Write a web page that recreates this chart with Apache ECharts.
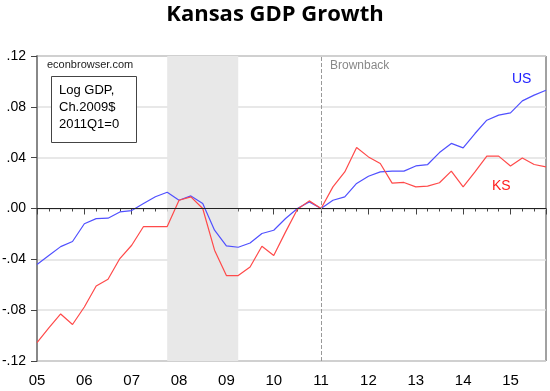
<!DOCTYPE html>
<html>
<head>
<meta charset="utf-8">
<script src="https://cdn.jsdelivr.net/npm/echarts@6/dist/echarts.min.js"></script>
<style>
html,body{margin:0;padding:0;background:#fff;}
#chart{width:550px;height:391px;}
</style>
</head>
<body>
<div id="chart"></div>
<script>
// Quarterly dates 2005Q1..2015Q4 expressed as decimal years
const startYear = 2005;
const quarterCount = 44;
const US = [
  -0.044, -0.037, -0.030, -0.026, -0.012, -0.008, -0.0076, -0.0027,
  -0.0016, 0.0039, 0.0092, 0.0128, 0.0065, 0.0099, 0.0039, -0.0171,
  -0.0294, -0.0305, -0.0271, -0.0197, -0.0171, -0.0079, 0.0, 0.0052,
  0.0, 0.0065, 0.0092, 0.0197, 0.0254, 0.0288, 0.0294, 0.0294,
  0.0335, 0.0346, 0.0440, 0.0512, 0.0477, 0.0590, 0.0695, 0.0735,
  0.0753, 0.0847, 0.0892, 0.0931
];
const KS = [
  -0.1055, -0.094, -0.083, -0.0913, -0.0775, -0.061, -0.0557, -0.0394,
  -0.0289, -0.0142, -0.0142, -0.0142, 0.0065, 0.0092, 0.0, -0.0328,
  -0.0528, -0.0528, -0.046, -0.0297, -0.037, -0.0184, -0.0006, 0.006,
  0.0, 0.017, 0.0288, 0.048, 0.0406, 0.0354, 0.0200, 0.0205,
  0.017, 0.0176, 0.0203, 0.0294, 0.017, 0.0288, 0.0412, 0.0412,
  0.0335, 0.0398, 0.0346, 0.0328
];
const yTicks = [-0.12, -0.08, -0.04, 0.00, 0.04, 0.08, 0.12];
const recession = [2007.75, 2009.25];
const brownbackDate = 2011.0;

const dates = [];
for (let i = 0; i < quarterCount; i++) dates.push(startYear + i / 4);
const usData = dates.map((d, i) => [d, US[i]]);
const ksData = dates.map((d, i) => [d, KS[i]]);

function fmtY(v) {
  const s = Math.abs(v).toFixed(2).replace(/^0/, '');
  return (v < -1e-9 ? '-' : '') + s;
}

const chart = echarts.init(document.getElementById('chart'));
chart.setOption({
  animation: false,
  title: {
    text: 'Kansas GDP Growth',
    left: 'center',
    top: -1,
    textStyle: { fontFamily: 'Open Sans', fontWeight: 'bold', fontSize: 22, color: '#000' }
  },
  grid: {
    left: 37, right: 4, top: 56, bottom: 30,
    outerBoundsMode: 'none', containLabel: false,
    show: true, borderColor: '#444', borderWidth: 1, backgroundColor: 'transparent'
  },
  xAxis: {
    type: 'value',
    min: 2005, max: 2015.75, interval: 1,
    axisLine: { show: true, lineStyle: { color: '#444' } },
    axisTick: { show: true, length: 6, inside: false, lineStyle: { color: '#444' } },
    minorTick: { show: true, splitNumber: 4, length: 3, lineStyle: { color: '#444' } },
    splitLine: { show: false },
    axisLabel: {
      margin: 12, fontFamily: 'Liberation Sans', fontSize: 15, color: '#000',
      showMaxLabel: false,
      formatter: v => (v > 2015.5 ? '' : String(Math.round(v) % 100).padStart(2, '0'))
    }
  },
  yAxis: {
    type: 'value',
    min: -0.12, max: 0.12, interval: 0.04,
    axisLine: { show: true, lineStyle: { color: '#888', width: 2 } },
    axisTick: { show: true, length: 6, lineStyle: { color: '#444' } },
    splitLine: { show: true, lineStyle: { color: '#e0e0e0', width: 1.5 } },
    axisLabel: {
      margin: 11, fontFamily: 'Liberation Sans', fontSize: 14, color: '#000',
      formatter: v => fmtY(v)
    }
  },
  series: [
    {
      name: 'US', type: 'line', data: usData, symbol: 'none',
      lineStyle: { color: '#5050ff', width: 1.2 }, z: 3,
      markArea: {
        silent: true,
        itemStyle: { color: '#e8e8e8' },
        data: [[{ xAxis: recession[0] }, { xAxis: recession[1] }]]
      },
      markLine: {
        silent: true, symbol: 'none', animation: false,
        label: { show: false },
        data: [
          { yAxis: 0, lineStyle: { color: '#222', type: 'solid', width: 1 } },
          { xAxis: brownbackDate, lineStyle: { color: '#999', type: [4, 2], width: 1 } }
        ]
      }
    },
    {
      name: 'KS', type: 'line', data: ksData, symbol: 'none',
      lineStyle: { color: '#ff4a4a', width: 1.2 }, z: 4
    }
  ],
  graphic: [
    { type: 'text', z: 100, left: 47, top: 59, style: { text: 'econbrowser.com', font: '11px "Liberation Sans"', fill: '#222' } },
    { type: 'rect', z: 100, shape: { x: 51.5, y: 76.5, width: 85, height: 66 }, style: { fill: '#fff', stroke: '#444', lineWidth: 1 } },
    { type: 'text', z: 101, left: 59, top: 82, style: { text: 'Log GDP,\nCh.2009$\n2011Q1=0', font: '13px "Liberation Sans"', lineHeight: 17, fill: '#000' } },
    { type: 'text', z: 100, left: 330, top: 60, style: { text: 'Brownback', font: '12px "Liberation Sans"', fill: '#888' } },
    { type: 'text', z: 100, left: 512, top: 72, style: { text: 'US', font: '14px "Liberation Sans"', fill: '#2020ff' } },
    { type: 'text', z: 100, left: 492, top: 179, style: { text: 'KS', font: '14px "Liberation Sans"', fill: '#ff2020' } }
  ]
});
</script>
</body>
</html>
